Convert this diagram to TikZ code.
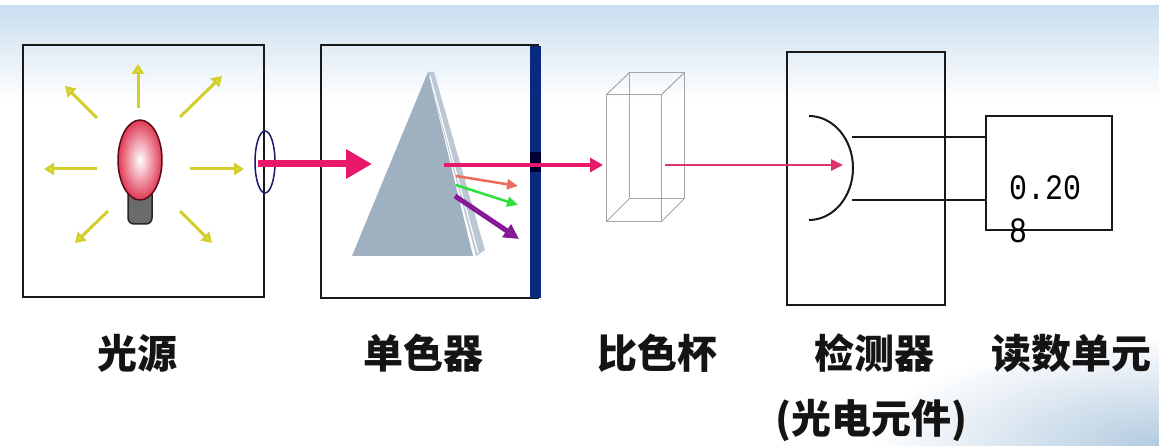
\documentclass[tikz,border=0pt]{standalone}
\usepackage{fontspec}
\newfontfamily\cjk{Noto Sans CJK SC}
\newfontfamily\mono{Liberation Mono}
\usetikzlibrary{arrows.meta,shapes.geometric}
\definecolor{sky}{HTML}{C9DEEF}
\definecolor{haze}{HTML}{B3CBE0}
\definecolor{ylw}{HTML}{D2CE2A}
\definecolor{ylwhead}{HTML}{E6E24A}
\definecolor{beam}{HTML}{E8186A}
\definecolor{beamthin}{HTML}{E0306E}
\definecolor{bulb}{HTML}{E03A55}
\definecolor{bulbedge}{HTML}{5A0A1A}
\definecolor{lensblue}{HTML}{1A1A6A}
\definecolor{barblue}{HTML}{0A2A80}
\definecolor{prismfront}{HTML}{9FB1C1}
\definecolor{prismside}{HTML}{BBC8D3}
\definecolor{raysalmon}{HTML}{EE6A5C}
\definecolor{raygreen}{HTML}{2EE040}
\definecolor{raypurple}{HTML}{861A96}
\tikzset{
  boxst/.style={draw=black!90, line width=2pt, inner sep=0pt, fill=none},
  yarrow/.style={draw=ylw, line width=3pt,
    -{Triangle[length=10pt,width=12pt,fill=ylwhead]}},
  caption/.style={font=\cjk\bfseries\fontsize{40}{44}\selectfont, inner sep=0pt, text=black!92},
  cuv/.style={draw=black!35, line width=1pt},
}
\begin{document}
\begin{tikzpicture}[x=1pt,y=-1pt]
\useasboundingbox (0,0) rectangle (1159,446);
% background: pale sky band on top, haze in the lower right corner
\fill[white] (0,0) rectangle (1159,446);
\shade[top color=sky, bottom color=white] (0,6) rectangle (1159,100);
\shade[inner color=haze, outer color=white] (1159,446) ellipse [x radius=290, y radius=110];

% ---------- light source ----------
\node[boxst, minimum width=241pt, minimum height=252pt] (src) at (143.5,171) {};
\draw[yarrow] (138,108) -- (138,64);
\draw[yarrow] (97,118) -- (65,86);
\draw[yarrow] (180,117) -- (222,76);
\draw[yarrow] (97,169) -- (44,169);
\draw[yarrow] (190,169) -- (244,169);
\draw[yarrow] (108,211) -- (75,243);
\draw[yarrow] (180,211) -- (212,243);
% bulb
\draw[fill=black!58, draw=black!85, line width=1.5pt, rounded corners=6pt]
  (128,188) rectangle (152,224);
\shade[inner color=white, outer color=bulb] (140,160) ellipse [x radius=22, y radius=40];
\draw[bulbedge, line width=1.5pt] (140,160) ellipse [x radius=22, y radius=40];
% lens on the exit
\node[draw=lensblue, line width=1.5pt, ellipse, minimum width=20pt, minimum height=62pt, inner sep=0pt] (lens) at (265,162) {};

% ---------- monochromator ----------
\node[boxst, minimum width=217pt, minimum height=253pt] (mono) at (429.5,171.5) {};
\fill[barblue] (530,46) rectangle (541,298);
\fill[black!80!blue] (530,152) rectangle (541,172);
% prism
\fill[prismside] (428,72) -- (434,72) -- (485,250) -- (476,256) -- cycle;
\fill[prismfront] (352,256) -- (428,72) -- (473,256) -- cycle;
\draw[white, line width=1.2pt] (430,76) -- (478,253);
\coordinate (pin) at (372,164);
\coordinate (pout) at (444,165);

% beams
\coordinate (lampout) at (258,164);
\draw[beam, line width=7pt, -{Triangle[length=26pt,width=28pt]}] (lampout) -- (pin);
\coordinate (cuvin) at (603,165);
\draw[beam, line width=4pt, -{Triangle[length=13pt,width=14pt]}] (pout) -- (cuvin);
% dispersed rays
\draw[raysalmon, line width=2.5pt, -{Triangle[length=11pt,width=10pt]}] (456,176) -- (518,186);
\draw[raygreen, line width=2.5pt, -{Triangle[length=11pt,width=10pt]}] (456,185) -- (518,205);
\draw[raypurple, line width=5pt, -{Triangle[length=15pt,width=15pt]}] (455,196) -- (519,239);

% ---------- cuvette ----------
\draw[cuv] (629,73) rectangle (684,199);
\draw[cuv] (606,95) rectangle (661,222);
\draw[cuv] (606,95) -- (629,73) (661,95) -- (684,73) (661,222) -- (684,199) (606,222) -- (629,199);

% ---------- detector ----------
\node[boxst, minimum width=158pt, minimum height=253pt] (det) at (866,178.5) {};
\coordinate (cuvout) at (665,165);
\coordinate (detin) at (843,165);
\draw[beamthin, line width=2.5pt, -{Triangle[length=12pt,width=11pt]}] (cuvout) -- (detin);
\draw[black!90, line width=2pt]
  (809,116) .. controls (833,116) and (853,139) .. (853,168)
  .. controls (853,197) and (833,220) .. (809,220);

% ---------- read-out unit ----------
\node[boxst, minimum width=126pt, minimum height=114pt] (read) at (1049,173) {};
\coordinate (w1) at (852,137);
\coordinate (w2) at (852,200);
\draw[black!90, line width=2pt] (w1) -- (w1 -| read.west);
\draw[black!90, line width=2pt] (w2) -- (w2 -| read.west);
\node[anchor=base west, inner sep=0pt, font=\mono\fontsize{34}{34}\selectfont] (val1) at (1009,200) {\scalebox{0.88}[1.05]{0.20}};
\node[anchor=base west, inner sep=0pt, font=\mono\fontsize{34}{34}\selectfont] (val2) at (1009,243) {\scalebox{0.88}[1.05]{8}};

% ---------- captions ----------
\node[caption] (lsrc)  at (137,353)  {光源};
\node[caption] (lmono) at (423,353)  {单色器};
\node[caption] (lcuv)  at (657,353)  {比色杯};
\node[caption] (ldet)  at (874,353)  {检测器};
\node[caption] (lread) at (1071,353) {读数单元};
\node[caption] (lpe)   at (871,420)  {(光电元件)};
\end{tikzpicture}
\end{document}
